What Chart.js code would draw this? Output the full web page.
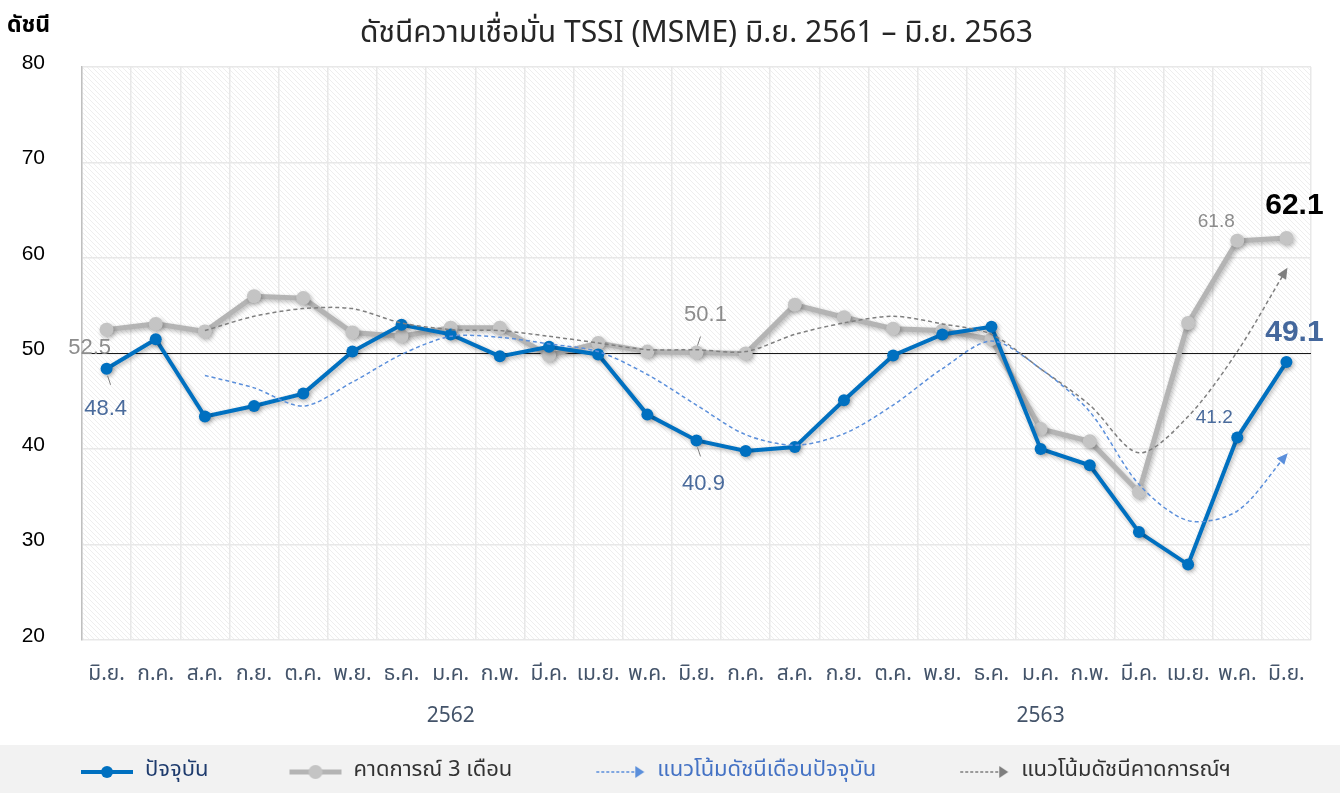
<!DOCTYPE html>
<html lang="th">
<head>
<meta charset="UTF-8">
<title>ดัชนีความเชื่อมั่น TSSI (MSME)</title>
<script src="https://cdn.jsdelivr.net/npm/chart.js"></script>
<style>
  body { margin: 0; background: #fff; }
  #wrap { width: 1340px; height: 793px; }
</style>
</head>
<body>
<div id="wrap"><canvas id="tssiChart"></canvas></div>
<script>
// months Jun 2561 .. Jun 2563, year shown under January
const months = ['มิ.ย.', 'ก.ค.', 'ส.ค.', 'ก.ย.', 'ต.ค.', 'พ.ย.', 'ธ.ค.', 'ม.ค.', 'ก.พ.', 'มี.ค.', 'เม.ย.', 'พ.ค.',
                'มิ.ย.', 'ก.ค.', 'ส.ค.', 'ก.ย.', 'ต.ค.', 'พ.ย.', 'ธ.ค.', 'ม.ค.', 'ก.พ.', 'มี.ค.', 'เม.ย.', 'พ.ค.', 'มิ.ย.'];
const years = ['', '', '', '', '', '', '', '2562', '', '', '', '', '', '', '', '', '', '', '', '2563', '', '', '', '', ''];

const current = [48.4, 51.5, 43.4, 44.5, 45.8, 50.2, 53.0, 52.0, 49.7, 50.7, 49.9, 43.6, 40.9,
                 39.8, 40.2, 45.1, 49.8, 52.0, 52.8, 40.0, 38.3, 31.3, 27.9, 41.2, 49.1];
const expected = [52.5, 53.1, 52.3, 56.0, 55.8, 52.2, 51.8, 52.7, 52.7, 49.8, 51.1, 50.2, 50.1,
                  50.0, 55.1, 53.8, 52.6, 52.4, 51.5, 42.1, 40.8, 35.5, 53.2, 61.8, 62.1];
const trendCurrent = [null, null, 47.7, 46.4, 44.5, 47.0, 49.9, 51.8, 51.7, 51.0, 50.2, 47.8, 44.6,
                      41.5, 40.4, 41.6, 44.6, 48.4, 51.3, 48.4, 43.9, 36.3, 32.5, 33.5, 39.4];
const trendExpected = [null, null, 52.4, 53.9, 54.7, 54.7, 53.2, 52.5, 52.4, 51.8, 51.1, 50.4, 50.4,
                       50.2, 52.0, 53.2, 53.9, 53.1, 52.0, 48.4, 44.6, 39.6, 43.4, 50.2, 58.8];
const baseline = 50;

const labels = months.map((m, i) => years[i] ? [m, years[i]] : m);

const thai = "'Noto Sans Thai', 'Noto Sans', 'DejaVu Sans', sans-serif";
const num = "'Liberation Sans', Arial, sans-serif";

// which values get a number printed next to them
const valueLabels = [
    { ds: 1, i: 0,  dx: -17, dy: 18,  color: '#8c8c8c', size: 22, weight: 'normal' },
    { ds: 0, i: 0,  dx: -1,  dy: 40,  color: '#4a6b9c', size: 22, weight: 'normal', leader: true },
    { ds: 1, i: 12, dx: 9,   dy: -38, color: '#8c8c8c', size: 22, weight: 'normal', leader: true },
    { ds: 0, i: 12, dx: 7,   dy: 44,  color: '#4a6b9c', size: 22, weight: 'normal', leader: true },
    { ds: 1, i: 23, dx: -21, dy: -19, color: '#8c8c8c', size: 19, weight: 'normal' },
    { ds: 1, i: 24, dx: 8,   dy: -32, color: '#000000', size: 30, weight: 'bold' },
    { ds: 0, i: 23, dx: -23, dy: -20, color: '#4a6b9c', size: 19, weight: 'normal' },
    { ds: 0, i: 24, dx: 8,   dy: -29, color: '#44679c', size: 30, weight: 'bold' }
];

function hatchPattern() {
    const c = document.createElement('canvas');
    c.width = 5; c.height = 5;
    const g = c.getContext('2d');
    g.fillStyle = '#ffffff';
    g.fillRect(0, 0, 5, 5);
    g.strokeStyle = '#eeeeee';
    g.lineWidth = 1;
    [-5, 0, 5].forEach(k => {
        g.beginPath(); g.moveTo(k, 0); g.lineTo(k + 5, 5); g.stroke();
    });
    return g.createPattern(c, 'repeat');
}

// legend marker; blank space on the left spreads the items out
const iconGap = 64;
function legendIcon(color, width, radius, dotColor, dashed) {
    const c = document.createElement('canvas');
    c.width = iconGap + 54; c.height = 18;
    const g = c.getContext('2d');
    g.translate(iconGap, 0);
    g.strokeStyle = color;
    g.lineWidth = width;
    if (dashed) {
        g.setLineDash([3, 2]);
        g.beginPath(); g.moveTo(4, 9); g.lineTo(44, 9); g.stroke();
        g.fillStyle = color;
        g.beginPath(); g.moveTo(43, 3); g.lineTo(52, 9); g.lineTo(43, 15); g.closePath(); g.fill();
    } else {
        g.beginPath(); g.moveTo(1, 9); g.lineTo(53, 9); g.stroke();
        g.fillStyle = dotColor;
        g.beginPath(); g.arc(27, 9, radius, 0, Math.PI * 2); g.fill();
    }
    return c;
}

const legendStyle = [
    { icon: legendIcon('#0070c0', 4, 6, '#0070c0', false), color: '#1f3c6e' },
    { icon: legendIcon('#b4b4b4', 5, 7, '#c4c4c4', false), color: '#333333' },
    { icon: legendIcon('#5b8fdb', 1.5, 0, '', true), color: '#4472c4' },
    { icon: legendIcon('#7f7f7f', 1.5, 0, '', true), color: '#333333' }
];

const decorPlugin = {
    id: 'decor',
    beforeDraw(chart) {
        const { ctx, chartArea: a } = chart;
        ctx.save();
        // legend band
        ctx.fillStyle = '#f2f2f2';
        ctx.fillRect(0, chart.legend.top, chart.width, chart.height - chart.legend.top);
        // hatched plot background
        ctx.fillStyle = hatchPattern();
        ctx.fillRect(a.left, a.top, a.right - a.left, a.bottom - a.top);
        // axis unit
        ctx.fillStyle = '#000';
        ctx.font = 'bold 23px ' + thai;
        ctx.textAlign = 'left';
        ctx.textBaseline = 'middle';
        ctx.fillText('ดัชนี', 7, 27);
        ctx.restore();
    },
    beforeDatasetsDraw(chart) {
        const { ctx, chartArea: a, scales } = chart;
        const y = scales.y.getPixelForValue(baseline);
        ctx.save();
        ctx.strokeStyle = '#1a1a1a';
        ctx.lineWidth = 1;
        ctx.beginPath(); ctx.moveTo(a.left, y); ctx.lineTo(a.right, y); ctx.stroke();
        ctx.restore();
    },
    beforeDatasetDraw(chart, args) {
        const ctx = chart.ctx;
        ctx.save();
        if (args.index < 2) {
            ctx.shadowColor = 'rgba(0,0,0,0.28)';
            ctx.shadowBlur = 4;
            ctx.shadowOffsetX = 1.5;
            ctx.shadowOffsetY = 2;
        }
    },
    afterDatasetDraw(chart) {
        chart.ctx.restore();
    },
    afterDatasetsDraw(chart) {
        const ctx = chart.ctx;
        // arrow heads on trend lines
        [2, 3].forEach(di => {
            const pts = chart.getDatasetMeta(di).data;
            const p1 = pts[pts.length - 2], p2 = pts[pts.length - 1];
            const ang = Math.atan2(p2.y - p1.y, p2.x - p1.x);
            ctx.save();
            ctx.translate(p2.x, p2.y);
            ctx.rotate(ang);
            ctx.fillStyle = chart.data.datasets[di].borderColor;
            ctx.beginPath(); ctx.moveTo(2, 0); ctx.lineTo(-9, -5); ctx.lineTo(-9, 5); ctx.closePath(); ctx.fill();
            ctx.restore();
        });
        // value labels
        valueLabels.forEach(l => {
            const p = chart.getDatasetMeta(l.ds).data[l.i];
            const v = chart.data.datasets[l.ds].data[l.i];
            const tx = p.x + l.dx, ty = p.y + l.dy;
            ctx.save();
            if (l.leader) {
                ctx.strokeStyle = '#7f7f7f';
                ctx.lineWidth = 1;
                ctx.beginPath();
                const s = Math.sign(l.dy);
                ctx.moveTo(p.x + 1, p.y + s * 7);
                ctx.lineTo(p.x + 4, p.y + s * 16);
                ctx.stroke();
            }
            ctx.fillStyle = l.color;
            ctx.font = l.weight + ' ' + l.size + 'px ' + num;
            ctx.textAlign = 'center';
            ctx.textBaseline = 'middle';
            ctx.fillText(v.toFixed(1), tx, ty);
            ctx.restore();
        });
    }
};

const ctx = document.getElementById('tssiChart').getContext('2d');
new Chart(ctx, {
    type: 'line',
    data: {
        labels: labels,
        datasets: [
            {
                label: 'ปัจจุบัน',
                data: current,
                borderColor: '#0070c0',
                backgroundColor: '#0070c0',
                borderWidth: 4,
                pointRadius: 6,
                pointBorderWidth: 0,
                tension: 0,
                order: 2
            },
            {
                label: 'คาดการณ์ 3 เดือน',
                data: expected,
                borderColor: '#b4b4b4',
                backgroundColor: '#c4c4c4',
                borderWidth: 5,
                pointRadius: 7,
                pointBorderWidth: 0,
                tension: 0,
                order: 3
            },
            {
                label: 'แนวโน้มดัชนีเดือนปัจจุบัน',
                data: trendCurrent,
                borderColor: '#5b8fdb',
                borderWidth: 1.5,
                borderDash: [4, 3],
                pointRadius: 0,
                tension: 0.3,
                order: 1
            },
            {
                label: 'แนวโน้มดัชนีคาดการณ์ฯ',
                data: trendExpected,
                borderColor: '#7f7f7f',
                borderWidth: 1.5,
                borderDash: [4, 3],
                pointRadius: 0,
                tension: 0.3,
                order: 0
            }
        ]
    },
    options: {
        responsive: true,
        maintainAspectRatio: false,
        animation: false,
        layout: { padding: { left: 0, right: 29, top: 8, bottom: 0 } },
        plugins: {
            title: {
                display: true,
                text: 'ดัชนีความเชื่อมั่น TSSI (MSME) มิ.ย. 2561 – มิ.ย. 2563',
                color: '#262626',
                font: { family: thai, size: 30, weight: 'normal' },
                fullSize: false,
                padding: { top: 10, bottom: 13 }
            },
            legend: {
                position: 'bottom',
                align: 'start',
                labels: {
                    usePointStyle: true,
                    pointStyleWidth: iconGap + 54,
                    padding: 16,
                    font: { family: thai, size: 22 },
                    generateLabels(chart) {
                        return chart.data.datasets.map((d, i) => ({
                            text: d.label,
                            pointStyle: legendStyle[i].icon,
                            fontColor: legendStyle[i].color,
                            strokeStyle: 'transparent',
                            fillStyle: 'transparent',
                            lineWidth: 0,
                            hidden: false,
                            datasetIndex: i
                        }));
                    }
                }
            },
            tooltip: { enabled: false }
        },
        scales: {
            x: {
                offset: true,
                grid: { offset: true, color: '#e8e8e8', lineWidth: 1.5, drawTicks: false },
                border: { display: false },
                afterFit(scale) { scale.height = 105; },
                ticks: {
                    autoSkip: false,
                    maxRotation: 0,
                    padding: 15,
                    color: '#44546a',
                    font: { family: thai, size: 21, lineHeight: 2.0 }
                }
            },
            y: {
                min: 20,
                max: 80,
                afterFit(scale) { scale.width = 82; },
                ticks: {
                    stepSize: 10,
                    padding: 37,
                    labelOffset: -4,
                    color: '#000',
                    font: { family: num, size: 21 }
                },
                grid: { color: '#e8e8e8', lineWidth: 1.5, drawTicks: false },
                border: { color: '#c0c0c0', width: 1.5 }
            }
        }
    },
    plugins: [decorPlugin]
});
</script>
</body>
</html>
